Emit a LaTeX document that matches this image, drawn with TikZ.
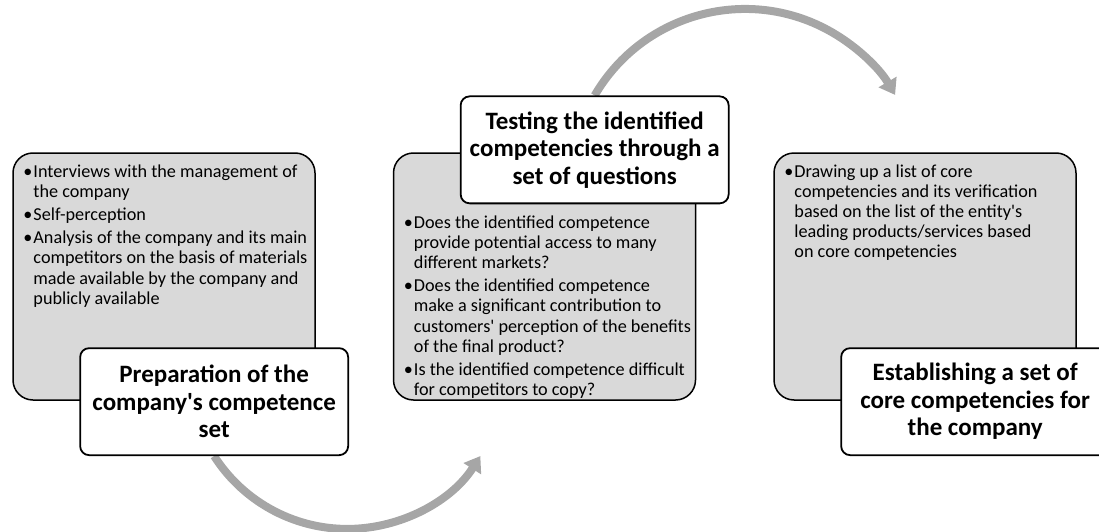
\documentclass[tikz,border=0pt]{standalone}
\usepackage{fontspec}
\setmainfont{Carlito}
\usepackage{tikz}
\usetikzlibrary{positioning,calc,arrows.meta,backgrounds}

\definecolor{boxgray}{HTML}{D9D9D9}
\definecolor{arcgray}{HTML}{A6A6A6}

\newcommand{\bul}{\makebox[10pt][l]{\textbullet}}
\newcommand{\ind}{\hspace*{10pt}}
\newcommand{\apos}{\textquotesingle}

\begin{document}
\begin{tikzpicture}[x=1pt, y=-1pt,
    stepgray/.style={rectangle, draw=black, line width=1.5pt, fill=boxgray, rounded corners=20pt, minimum width=302pt, minimum height=247pt},
    steptitle/.style={rectangle, draw=black, line width=1.8pt, fill=white, rounded corners=9pt, minimum width=268pt, minimum height=107pt, align=center, inner sep=2pt, font=\fontsize{25}{27.5}\selectfont\bfseries},
    steptext/.style={anchor=north west, inner sep=0pt, align=left, font=\fontsize{18.2}{20.2}\selectfont},
    cyclearrow/.style={line width=8pt, draw=arcgray, -{Triangle[width=20pt,length=15pt]}}]
    \useasboundingbox (0,0) rectangle (1099,532);
    \clip (0,0) rectangle (1099,532);

    % gray step boxes
    \node [stepgray] (prepbox) at (164,276.5) {};
    \node [stepgray, right=77pt of prepbox] (testbox) {};
    \node [stepgray, right=77pt of testbox] (corebox) {};

    % bullet texts inside the gray boxes
    \node [steptext, below right=12pt and 11pt of prepbox.north west] (preptext) {
        \bul Interviews with the management of\\
        \ind the company\\[3pt]
        \bul Self-perception\\[3pt]
        \bul Analysis of the company and its main\\
        \ind competitors on the basis of materials\\
        \ind made available by the company and\\
        \ind publicly available
    };
    \node [steptext, below right=63pt and 11pt of testbox.north west] (testtext) {
        \bul Does the identified competence\\
        \ind provide potential access to many\\
        \ind different markets?\\[3pt]
        \bul Does the identified competence\\
        \ind make a significant contribution to\\
        \ind customers\apos\ perception of the benefits\\
        \ind of the final product?\\[3pt]
        \bul Is the identified competence difficult\\
        \ind for competitors to copy?
    };
    \node [steptext, below right=12pt and 11pt of corebox.north west] (coretext) {
        \bul Drawing up a list of core\\
        \ind competencies and its verification\\
        \ind based on the list of the entity\apos s\\
        \ind leading products/services based\\
        \ind on core competencies
    };

    % white title boxes
    \node [steptitle, below right=195pt and 67pt of prepbox.north west] (preptitle) {
        Preparation of the\\company\apos s competence\\set
    };
    \node [steptitle, above right=-52pt and 67pt of testbox.north west] (testtitle) {
        Testing the identified\\competencies through a\\set of questions
    };
    \node [steptitle, below right=195pt and 67pt of corebox.north west] (coretitle) {
        Establishing a set of\\core competencies for\\the company
    };

    % curved gray arrows between the steps
    \begin{scope}[on background layer]
        \draw [cyclearrow] (preptitle.south) arc[start angle=212.6, end angle=327.4, radius=158pt];
        \draw [cyclearrow] (testtitle.north) arc[start angle=149.8, end angle=30.4, radius=174pt];
    \end{scope}

\end{tikzpicture}
\end{document}
